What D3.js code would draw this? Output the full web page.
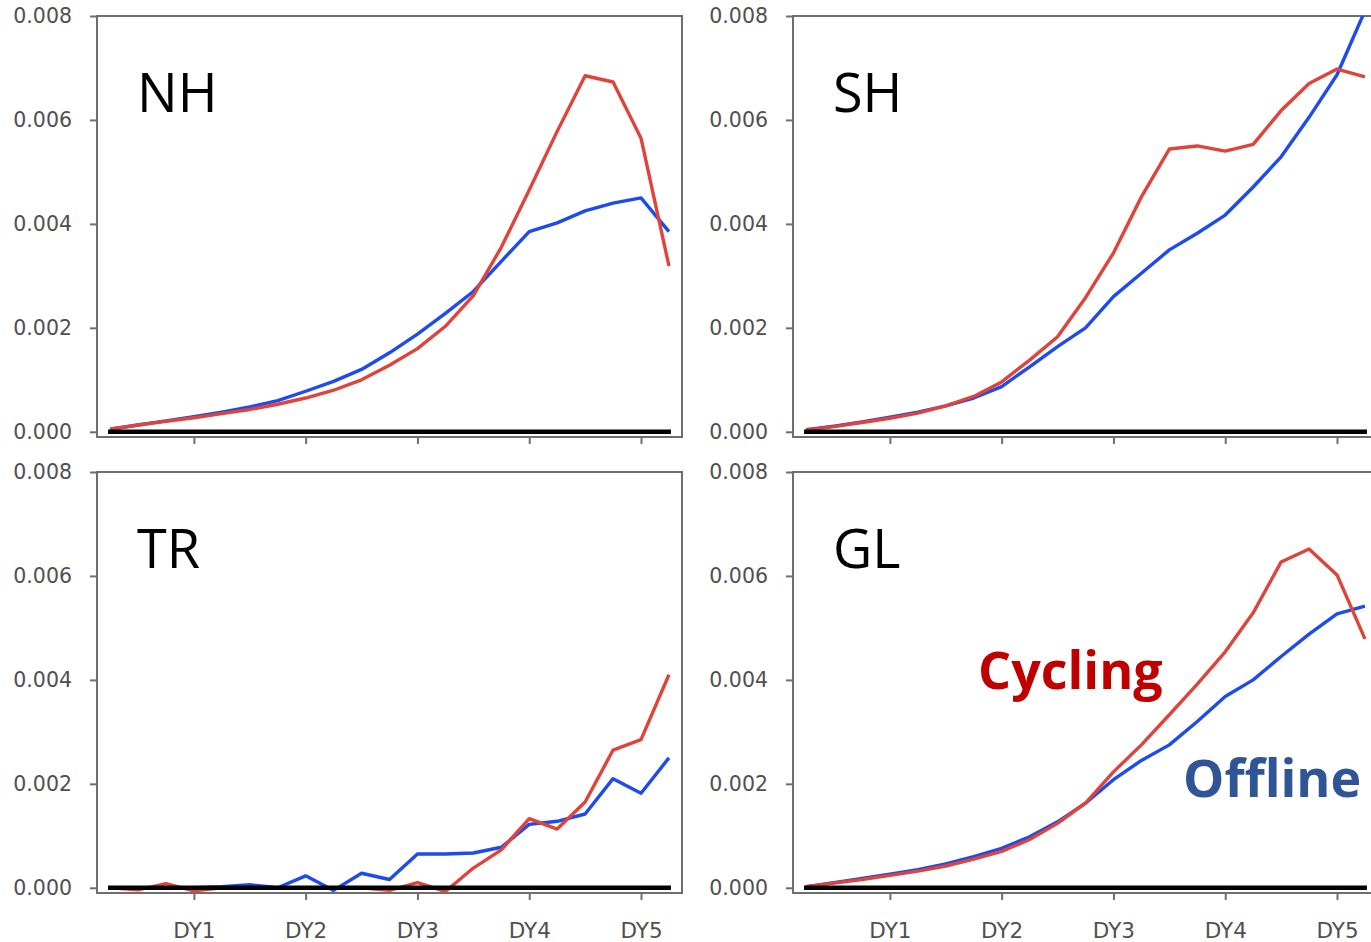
<!DOCTYPE html>
<html><head><meta charset="utf-8">
<script src="https://cdn.jsdelivr.net/npm/d3@7"></script>
<style>body{margin:0;background:#fff;overflow:hidden}</style></head>
<body>
<svg id="c" width="1371" height="942" xmlns="http://www.w3.org/2000/svg"></svg>
<script>
// ---- data ----
const hours = [6,12,18,24,30,36,42,48,54,60,66,72,78,84,90,96,102,108,114,120,126];
const dayTicks = [24,48,72,96,120];
const dayLabels = ["DY1","DY2","DY3","DY4","DY5"];
const yTicks = [0,0.002,0.004,0.006,0.008];
const regions = ["NH","SH","TR","GL"];
const seriesNames = ["Cycling","Offline"];

const nhCycling = [0.00005,0.00013,0.00020,0.00027,0.00035,0.00043,0.00053,0.00065,0.00080,0.00100,0.00128,0.00160,0.00203,0.00262,0.00355,0.00465,0.00578,0.00685,0.00673,0.00565,0.00319];
const nhOffline = [0.00005,0.00013,0.00021,0.00029,0.00038,0.00048,0.00060,0.00078,0.00097,0.00120,0.00152,0.00188,0.00228,0.00270,0.00328,0.00385,0.00402,0.00425,0.00440,0.00450,0.00385];
const shCycling = [0.00003,0.00010,0.00018,0.00026,0.00036,0.00050,0.00068,0.00096,0.00138,0.00183,0.00258,0.00344,0.00452,0.00544,0.00550,0.00540,0.00553,0.00618,0.00670,0.00698,0.00683];
const shOffline = [0.00004,0.00011,0.00019,0.00028,0.00038,0.00050,0.00065,0.00087,0.00125,0.00164,0.00200,0.00260,0.00305,0.00350,0.00382,0.00417,0.00471,0.00529,0.00605,0.00687,0.00810];
const trCycling = [0.00000,-0.00004,0.00008,-0.00006,0.00000,0.00000,0.00000,0.00000,0.00000,0.00000,-0.00005,0.00010,-0.00007,0.00038,0.00073,0.00133,0.00113,0.00165,0.00265,0.00285,0.00410];
const trOffline = [0.00000,0.00000,0.00000,0.00000,0.00002,0.00006,0.00000,0.00023,-0.00005,0.00028,0.00016,0.00065,0.00065,0.00067,0.00078,0.00122,0.00128,0.00142,0.00210,0.00182,0.00250];
const glCycling = [0.00002,0.00009,0.00016,0.00024,0.00032,0.00042,0.00055,0.00070,0.00093,0.00124,0.00163,0.00223,0.00275,0.00333,0.00392,0.00454,0.00529,0.00627,0.00652,0.00602,0.00479];
const glOffline = [0.00002,0.00010,0.00018,0.00026,0.00035,0.00046,0.00060,0.00076,0.00098,0.00127,0.00163,0.00208,0.00245,0.00275,0.00320,0.00368,0.00400,0.00445,0.00488,0.00527,0.00542];

// ---- layout ----
const svg = d3.select("#c");
const W = 585, H = 421;
const panels = [
  {name: regions[0], cyc: nhCycling, off: nhOffline, left: 97,  top: 16,  labels: false},
  {name: regions[1], cyc: shCycling, off: shOffline, left: 793, top: 16,  labels: false},
  {name: regions[2], cyc: trCycling, off: trOffline, left: 97,  top: 472, labels: true},
  {name: regions[3], cyc: glCycling, off: glOffline, left: 793, top: 472, labels: true}
];
const red = "#e0433a", blue = "#1d4bf0", spine = "#6e6e6e", tickText = "#505050";
const tickFont = "DejaVu Sans, Liberation Sans, sans-serif";

panels.forEach((p, k) => {
  const x = d3.scaleLinear().domain([3.2, 128.8]).range([p.left, p.left + W]);
  const y = d3.scaleLinear().domain([-0.0001, 0.008]).range([p.top + H, p.top]);
  const g = svg.append("g");

  const clipId = "clip" + k;
  svg.append("clipPath").attr("id", clipId).append("rect")
    .attr("x", p.left).attr("y", p.top).attr("width", W).attr("height", H);

  // y axis
  const ya = g.append("g").attr("transform", `translate(${p.left},0)`)
    .call(d3.axisLeft(y).tickValues(yTicks).tickFormat(d3.format(".3f")).tickSize(7).tickPadding(18));
  ya.select(".domain").remove();
  ya.selectAll("line").attr("stroke", spine).attr("stroke-width", 2);
  ya.selectAll("text").attr("font-family", tickFont)
    .attr("font-size", 20.5).attr("fill", tickText);

  // x axis
  const xa = g.append("g").attr("transform", `translate(0,${p.top + H})`)
    .call(d3.axisBottom(x).tickValues(dayTicks)
      .tickFormat((d, i) => p.labels ? dayLabels[i] : "").tickSize(7));
  xa.select(".domain").remove();
  xa.selectAll("line").attr("stroke", spine).attr("stroke-width", 2);
  xa.selectAll("text").attr("font-family", tickFont)
    .attr("font-size", 21.5).attr("fill", tickText).attr("y", 45).attr("dy", 0);

  // frame
  g.append("rect").attr("x", p.left).attr("y", p.top).attr("width", W).attr("height", H)
    .attr("fill", "none").attr("stroke", spine).attr("stroke-width", 2);

  const line = d3.line().x((d, i) => x(hours[i])).y(d => y(d));
  const lg = g.append("g").attr("clip-path", `url(#${clipId})`);
  lg.append("path").datum(p.off).attr("d", line).attr("fill", "none")
    .attr("stroke", blue).attr("stroke-width", 3.4).attr("stroke-linejoin", "round");
  lg.append("path").datum(p.cyc).attr("d", line).attr("fill", "none")
    .attr("stroke", red).attr("stroke-width", 3.4).attr("stroke-linejoin", "round");
  // zero line
  lg.append("line").attr("x1", x(hours[0]) - 2).attr("x2", x(hours[hours.length - 1]) + 2)
    .attr("y1", y(0)).attr("y2", y(0)).attr("stroke", "#000").attr("stroke-width", 4.5);

  // region label
  g.append("text").attr("x", p.left + 40).attr("y", p.top + 96)
    .attr("font-family", "Open Sans, Noto Sans, sans-serif").attr("font-size", 54)
    .attr("fill", "#000").text(p.name);

  if (p.name === "GL") {
    g.append("text").attr("x", 978).attr("y", 689)
      .attr("font-family", "Open Sans, sans-serif").attr("font-weight", 700).attr("font-size", 52)
      .attr("fill", "#c00000").text(seriesNames[0]);
    g.append("text").attr("x", 1183).attr("y", 797)
      .attr("font-family", "Open Sans, sans-serif").attr("font-weight", 700).attr("font-size", 52)
      .attr("fill", "#2f5597").text(seriesNames[1]);
  }
});
</script>
</body></html>
